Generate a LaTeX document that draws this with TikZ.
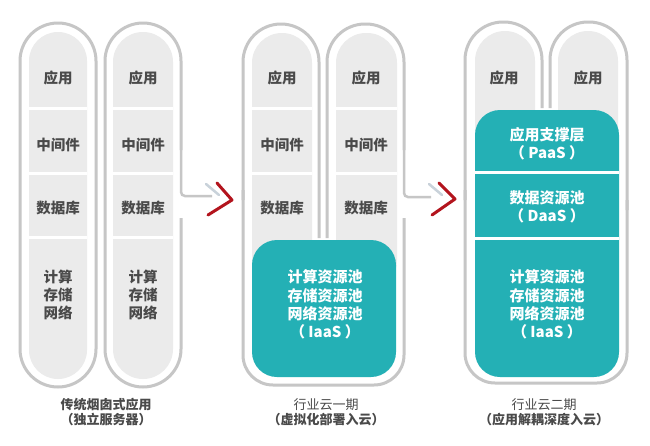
\documentclass[tikz,border=0pt]{standalone}
\usepackage{fontspec}
\newfontfamily\cjk{Noto Sans CJK SC}
\definecolor{outl}{HTML}{C6C6C6}
\definecolor{innr}{HTML}{EBEBEB}
\definecolor{tealc}{HTML}{24B0B5}
\definecolor{txtc}{HTML}{4A4A4A}
\definecolor{redc}{HTML}{B3141D}
\definecolor{armc}{HTML}{C9D2DA}
\tikzset{
  outline/.style={draw=outl, line width=3pt},
  sepline/.style={draw=white, line width=3pt},
  graytxt/.style={font=\cjk\bfseries\fontsize{14.5}{18}\selectfont, text=txtc, align=center, inner sep=0pt},
  tealtxt/.style={font=\cjk\bfseries\fontsize{15}{18.3}\selectfont, text=white, align=center, inner sep=0pt},
  lbl/.style={font=\cjk\bfseries\fontsize{13}{15.5}\selectfont, text=txtc, align=center, inner sep=0pt},
  chev/.style={draw=redc, line width=3pt, line cap=round, line join=round},
  chevarm/.style={draw=armc, line width=2.5pt, line cap=round},
}
\begin{document}
\begin{tikzpicture}[x=1pt,y=-1pt]
\useasboundingbox (0,0) rectangle (650,445);
\fill[white] (0,0) rectangle (650,445);

% ---------- Group 1 ----------
% column A
\fill[innr, rounded corners=29] (29,32) rectangle (87,379);
\draw[sepline] (29,108) -- (87,108);
\draw[sepline] (29,173) -- (87,173);
\draw[sepline] (29,237) -- (87,237);
\draw[outline, rounded corners=38] (20,23) rectangle (96,387);
% column B
\fill[innr, rounded corners=30] (113,32) rectangle (173,379);
\draw[sepline] (113,108) -- (173,108);
\draw[sepline] (113,173) -- (173,173);
\draw[sepline] (113,237) -- (173,237);
\draw[outline, rounded corners=38] (181,150) -- (181,23) -- (105,23) -- (105,387) -- (181,387) -- (181,218);
\coordinate (arr1s) at (181,150);
\coordinate (arr1e) at (212,196);
\draw[outline, line width=2.5pt, rounded corners=4] (arr1s) -- (181,196) -- (arr1e);
\draw[chevarm] (206,184) -- (219,195);
\draw[chev] (208,215) -- (232,200) -- (217,183);

\node[graytxt] (a1) at (58,78) {应用};
\node[graytxt] (a2) at (58,145) {中间件};
\node[graytxt] (a3) at (58,208) {数据库};
\node[graytxt] (a4) at (58,295) {计算\\存储\\网络};
\node[graytxt] (b1) at (143,78) {应用};
\node[graytxt] (b2) at (143,145) {中间件};
\node[graytxt] (b3) at (143,208) {数据库};
\node[graytxt] (b4) at (143,295) {计算\\存储\\网络};
\node[lbl] (g1) at (106,412) {传统烟囱式应用\\（独立服务器）};

% ---------- Group 2 ----------
\fill[innr, rounded corners=30] (252,33) rectangle (312,290);
\fill[innr, rounded corners=30] (336,33) rectangle (397,290);
\draw[sepline] (252,108) -- (312,108);
\draw[sepline] (252,173) -- (312,173);
\draw[sepline] (336,108) -- (397,108);
\draw[sepline] (336,173) -- (397,173);
\fill[tealc, rounded corners=25] (252,240) rectangle (396,377);
\draw[outline, rounded corners=38] (319,238) -- (319,24) -- (243,24) -- (243,200);
\draw[outline, rounded corners=30] (243,190) -- (243,385) -- (404,385) -- (404,218);
\draw[outline, rounded corners=38] (404,150) -- (404,24) -- (327,24) -- (327,238);
\coordinate (arr2s) at (404,150);
\coordinate (arr2e) at (431,197);
\draw[outline, line width=2.5pt, rounded corners=4] (arr2s) -- (404,197) -- (arr2e);
\draw[chevarm] (429,184) -- (442,195);
\draw[chev] (432,215) -- (455,199) -- (439,183);

\node[graytxt] (c1) at (282,78) {应用};
\node[graytxt] (c2) at (282,145) {中间件};
\node[graytxt] (c3) at (282,208) {数据库};
\node[graytxt] (d1) at (366,78) {应用};
\node[graytxt] (d2) at (366,145) {中间件};
\node[graytxt] (d3) at (366,208) {数据库};
\node[tealtxt] (cd4) at (325,304.5) {计算资源池\\存储资源池\\网络资源池\\（ IaaS ）};
\node[lbl] (g2) at (326,412) {{\mdseries 行业云一期}\\（虚拟化部署入云）};

% ---------- Group 3 ----------
\fill[innr, rounded corners=30] (475,31) rectangle (535,170);
\fill[innr, rounded corners=30] (558,31) rectangle (618,170);
\fill[tealc, rounded corners=25] (475,110) rectangle (619,377);
\draw[sepline] (475,172) -- (619,172);
\draw[sepline] (475,238) -- (619,238);
\draw[outline, rounded corners=38] (542,108) -- (542,22) -- (465,22) -- (465,200);
\draw[outline, rounded corners=30] (465,190) -- (465,383) -- (627,383) -- (627,200);
\draw[outline, rounded corners=38] (627,210) -- (627,22) -- (550,22) -- (550,108);

\node[graytxt] (e1) at (504,78) {应用};
\node[graytxt] (f1) at (588,78) {应用};
\node[tealtxt] (ef2) at (547,144) {应用支撑层\\（ PaaS ）};
\node[tealtxt] (ef3) at (547,206.5) {数据资源池\\（ DaaS ）};
\node[tealtxt] (ef4) at (547,304.5) {计算资源池\\存储资源池\\网络资源池\\（ IaaS ）};
\node[lbl] (g3) at (544,412) {{\mdseries 行业云二期}\\（应用解耦深度入云）};
\end{tikzpicture}
\end{document}
